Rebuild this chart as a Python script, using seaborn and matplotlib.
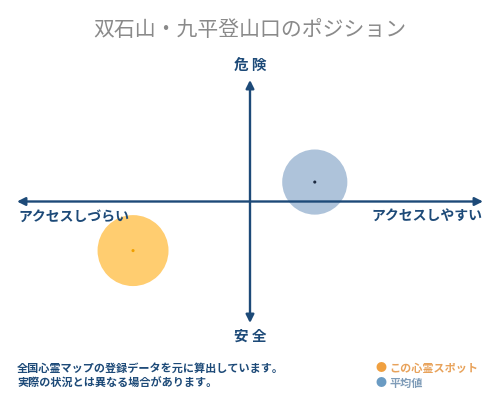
import matplotlib
matplotlib.use("Agg")
import matplotlib.pyplot as plt
import seaborn as sns
import pandas as pd

# ---- data ----
series = ["この心霊スポット", "平均値"]
access = [-2.51, 1.39]      # アクセスしづらい(-) ... アクセスしやすい(+)
danger = [-2.02, 0.80]      # 安全(-) ... 危険(+)
title = "双石山・九平登山口のポジション"
x_labels = ["アクセスしづらい", "アクセスしやすい"]
y_labels = ["安全", "危険"]
notes = ["全国心霊マップの登録データを元に算出しています。", "実際の状況とは異なる場合があります。"]

sns.set_theme(style="white")
plt.rcParams['font.family'] = ['Noto Sans CJK JP', 'DejaVu Sans']

W, H = 500, 400
fig = plt.figure(figsize=(5, 4), dpi=100)
fig.patch.set_facecolor("white")

def fx(px):
    return px / W

def fy(py):
    return 1 - py / H

L, R, T, B = 17, 483, 80, 323
ax = fig.add_axes([fx(L), fy(B), (R - L) / W, (B - T) / H])

navy = "#1d4a78"
fill_colors = {"この心霊スポット": "#FFCD70", "平均値": "#AEC3DA"}
dot_colors = {"この心霊スポット": "#F0A000", "平均値": "#1d2a40"}
sizes = {"この心霊スポット": 2611, "平均値": 2200}

df = pd.DataFrame({"series": series, "access": access, "danger": danger})

sns.scatterplot(data=df, x="access", y="danger", hue="series", size="series",
                sizes=sizes, palette=fill_colors, linewidth=0, alpha=1.0,
                legend=False, ax=ax, zorder=2)
sns.scatterplot(data=df, x="access", y="danger", hue="series",
                palette=dot_colors, s=5, linewidth=0, legend=False, ax=ax, zorder=6)
ax.set_xlim(-5, 5)
ax.set_ylim(-5, 5)
ax.axis("off")

# axes arrows (drawn above circles)
arrow = dict(arrowstyle="<|-|>,head_length=0.4,head_width=0.2",
             color=navy, lw=1.7, shrinkA=0, shrinkB=0)
ax.annotate("", xy=(5, 0), xytext=(-5, 0), xycoords="data", arrowprops=arrow, zorder=5)
ax.annotate("", xy=(0, 5), xytext=(0, -5), xycoords="data", arrowprops=arrow, zorder=5)

# texts
fig.text(fx(250), fy(30), title, ha="center", va="center", fontsize=15, color="#8a8a8a")
fig.text(fx(250), fy(66), " ".join(y_labels[1]), ha="center", va="center",
         fontsize=10.5, color=navy, fontweight="bold")
fig.text(fx(250), fy(336), " ".join(y_labels[0]), ha="center", va="center",
         fontsize=10.5, color=navy, fontweight="bold")
fig.text(fx(18), fy(217), x_labels[0], ha="left", va="center",
         fontsize=10, color=navy, fontweight="bold")
fig.text(fx(482), fy(217), x_labels[1], ha="right", va="center",
         fontsize=10, color=navy, fontweight="bold")

fig.text(fx(17), fy(368), notes[0], ha="left", va="center", fontsize=8,
         color=navy, fontweight="bold")
fig.text(fx(17), fy(383), notes[1], ha="left", va="center", fontsize=8,
         color=navy, fontweight="bold")

fig.text(fx(376), fy(368), "●", ha="left", va="center", fontsize=8, color="#F0A040")
fig.text(fx(389), fy(368), series[0], ha="left", va="center", fontsize=8,
         color="#E8A25A", fontweight="bold")
fig.text(fx(376), fy(383), "●", ha="left", va="center", fontsize=8, color="#6A9BC3")
fig.text(fx(389), fy(383), series[1], ha="left", va="center", fontsize=8,
         color="#7F9CB8", fontweight="bold")

fig.savefig("out.png", dpi=100, facecolor="white")
